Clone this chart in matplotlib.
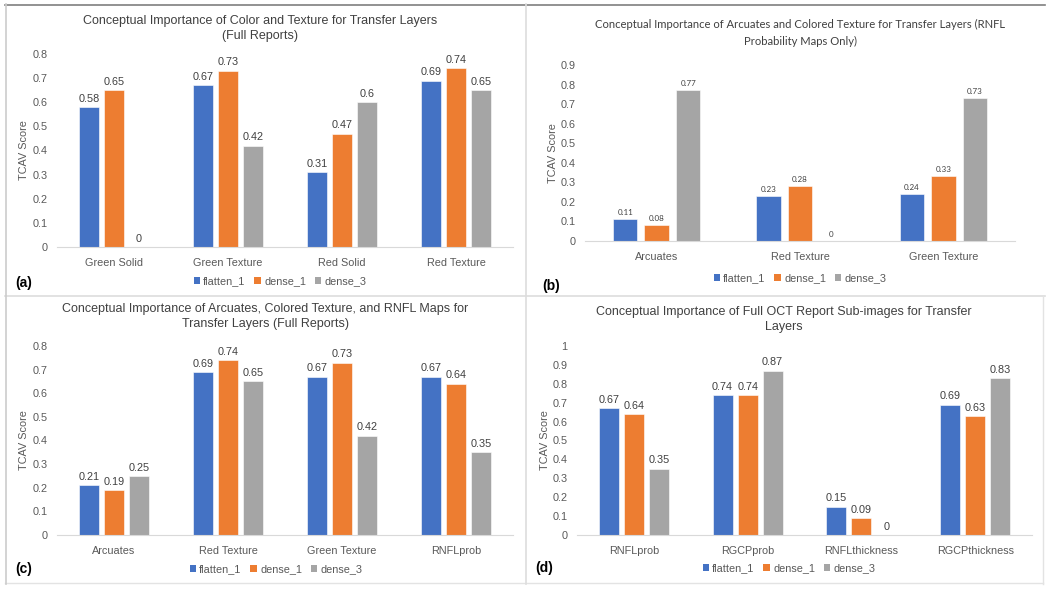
import matplotlib
matplotlib.use("Agg")
import matplotlib.pyplot as plt
from matplotlib.lines import Line2D
from matplotlib.patches import Patch
import numpy as np

W, H = 1050, 591
series = ["flatten_1", "dense_1", "dense_3"]
colors = ["#4472C4", "#ED7D31", "#A5A5A5"]

cats_a = ["Green Solid", "Green Texture", "Red Solid", "Red Texture"]
flat_a = [0.58, 0.67, 0.31, 0.69]
d1_a = [0.65, 0.73, 0.47, 0.74]
d3_a = [0, 0.42, 0.6, 0.65]

cats_b = ["Arcuates", "Red Texture", "Green Texture"]
flat_b = [0.11, 0.23, 0.24]
d1_b = [0.08, 0.28, 0.33]
d3_b = [0.77, 0, 0.73]

cats_c = ["Arcuates", "Red Texture", "Green Texture", "RNFLprob"]
flat_c = [0.21, 0.69, 0.67, 0.67]
d1_c = [0.19, 0.74, 0.73, 0.64]
d3_c = [0.25, 0.65, 0.42, 0.35]

cats_d = ["RNFLprob", "RGCPprob", "RNFLthickness", "RGCPthickness"]
flat_d = [0.67, 0.74, 0.15, 0.69]
d1_d = [0.64, 0.74, 0.09, 0.63]
d3_d = [0.35, 0.87, 0, 0.83]

titles = [
    "Conceptual Importance of Color and Texture for Transfer Layers\n(Full Reports)",
    "Conceptual Importance of Arcuates and Colored Texture for Transfer Layers (RNFL\nProbability Maps Only)",
    "Conceptual Importance of Arcuates, Colored Texture, and RNFL Maps for\nTransfer Layers (Full Reports)",
    "Conceptual Importance of Full OCT Report Sub-images for Transfer\nLayers",
]

fig = plt.figure(figsize=(W / 100, H / 100), dpi=100)
FONT = "Liberation Sans"

def px_axes(left, zero_y, width, top_y):
    return fig.add_axes([left / W, 1 - zero_y / H, width / W, (zero_y - top_y) / H])

panels = [
    dict(rect=(57, 247, 456, 54), ymax=0.8, cats=cats_a, data=(flat_a, d1_a, d3_a),
         title=titles[0], ty=28.5, tx=260, tsize=9.0, tls=1.35, letter="(a)", lx=15, ly=283,
         legy=281, legx=280, ylx=29,
         tfont=FONT, lfont=FONT, lsize=7.8, bw=0.175, off=0.22),
    dict(rect=(585, 241, 430, 65), ymax=0.9, cats=cats_b, data=(flat_b, d1_b, d3_b),
         title=titles[1], ty=33, tx=800, tsize=8.1, tls=1.6, letter="(b)", lx=542, ly=286,
         legy=278, legx=800, ylx=558,
         tfont="Lato", lfont="Lato", lsize=5.8, bw=0.17, off=0.22),
    dict(rect=(57, 535, 456, 346), ymax=0.8, cats=cats_c, data=(flat_c, d1_c, d3_c),
         title=titles[2], ty=316.5, tx=265, tsize=9.0, tls=1.35, letter="(c)", lx=15, ly=569,
         legy=569, legx=276, ylx=29,
         tfont=FONT, lfont=FONT, lsize=7.8, bw=0.175, off=0.22),
    dict(rect=(577, 535, 455, 346), ymax=1.0, cats=cats_d, data=(flat_d, d1_d, d3_d),
         title=titles[3], ty=319.5, tx=784, tsize=9.0, tls=1.35, letter="(d)", lx=535, ly=568,
         legy=568, legx=789, ylx=550,
         tfont=FONT, lfont=FONT, lsize=7.8, bw=0.175, off=0.22),
]

for p in panels:
    l, z, w, t = p["rect"]
    ax = px_axes(l, z, w, t)
    n = len(p["cats"])
    x = np.arange(n)
    for i, (vals, c) in enumerate(zip(p["data"], colors)):
        xs = x + (i - 1) * p["off"]
        ax.bar(xs, vals, width=p["bw"], color=c, edgecolor="white", linewidth=0.4)
        for xi, v in zip(xs, vals):
            ax.text(xi, v + p["ymax"] * 0.018, f"{v:g}", ha="center", va="bottom",
                    fontsize=p["lsize"], color="#404040", family=p["lfont"])
    ax.set_xlim(-0.5, n - 0.5)
    ax.set_ylim(0, p["ymax"])
    ticks = np.round(np.arange(0, p["ymax"] + 1e-9, 0.1), 1)
    ax.set_yticks(ticks)
    ax.set_yticklabels([f"{v:g}" for v in ticks], fontsize=7.8, color="#595959", family=FONT)
    ax.set_xticks(x)
    ax.set_xticklabels(p["cats"], fontsize=7.8, color="#595959", family=FONT)
    ax.tick_params(length=0, pad=8)
    ax.tick_params(axis="y", pad=7)
    for s in ["top", "right", "left"]:
        ax.spines[s].set_visible(False)
    ax.spines["bottom"].set_color("#D9D9D9")
    ax.set_ylabel("TCAV Score", fontsize=7.8, color="#595959", family=FONT)
    ax.yaxis.set_label_coords((p["ylx"] - l) / w, 0.5)
    fig.text(p["tx"] / W, 1 - p["ty"] / H, p["title"], ha="center", va="center",
             fontsize=p["tsize"], color="#404040", family=p["tfont"], linespacing=p["tls"])
    fig.text(p["lx"] / W, 1 - p["ly"] / H, p["letter"], ha="left", va="center",
             fontsize=10, fontweight="bold", family=FONT, color="black")
    handles = [Patch(facecolor=c, label=s) for c, s in zip(colors, series)]
    fig.legend(handles=handles, loc="center", bbox_to_anchor=(p["legx"] / W, 1 - p["legy"] / H),
               ncol=3, frameon=False, prop={"family": FONT, "size": 7.8},
               handlelength=0.6, handleheight=0.6, handletextpad=0.3, columnspacing=0.8,
               labelcolor="#595959")

def hline(y, x0, x1, c, lw=1.0):
    fig.add_artist(Line2D([x0 / W, x1 / W], [1 - y / H, 1 - y / H], color=c, lw=lw))

def vline(x, y0, y1, c, lw=1.0):
    fig.add_artist(Line2D([x / W, x / W], [1 - y0 / H, 1 - y1 / H], color=c, lw=lw))

hline(4.5, 5, 1045, "#7F7F7F", 1.2)
hline(296, 5, 1045, "#DDDDDD", 1.2)
hline(583, 5, 1043, "#E3E3E3", 1.0)
vline(5.5, 4, 584, "#CCCCCC", 1.2)
vline(526, 4, 584, "#DDDDDD", 1.2)
vline(1043, 296, 584, "#E3E3E3", 1.0)

fig.savefig("out.png", dpi=100)
